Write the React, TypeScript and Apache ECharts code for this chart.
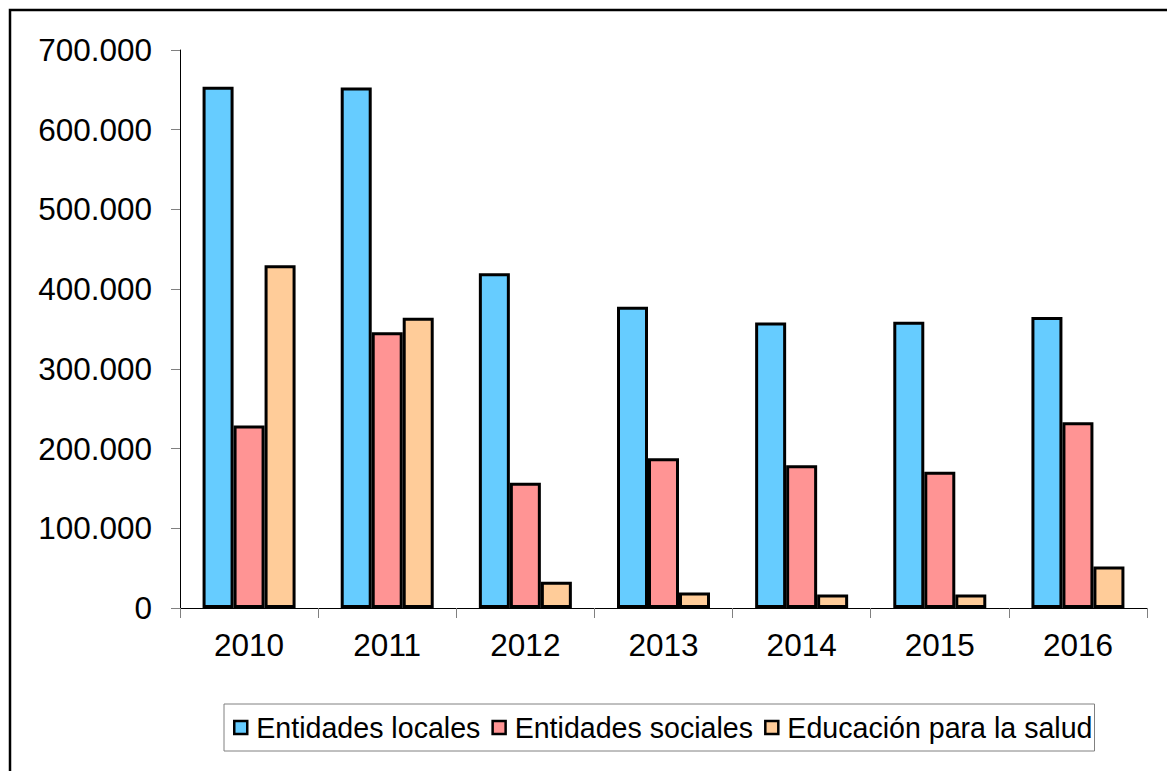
import React, { useEffect, useRef } from "react";
import * as echarts from "echarts";

const categories = ["2010", "2011", "2012", "2013", "2014", "2015", "2016"];
const seriesNames = ["Entidades locales", "Entidades sociales", "Educación para la salud"];
const entidadesLocales = [654000, 653000, 420000, 378000, 358000, 359000, 365000];
const entidadesSociales = [229000, 346000, 157000, 188000, 179000, 171000, 233000];
const educacionSalud = [430000, 364000, 33000, 19500, 17000, 17000, 52000];
const seriesColors = ["#66CCFF", "#FF9494", "#FFCC99"];
const yTicks = [0, 100000, 200000, 300000, 400000, 500000, 600000, 700000];

const FONT = "'Liberation Sans', Arial, sans-serif";

function fmt(v: number): string {
  return String(Math.round(v)).replace(/\B(?=(\d{3})+(?!\d))/g, ".");
}

export default function App() {
  const ref = useRef<HTMLDivElement>(null);
  useEffect(() => {
    if (!ref.current) return;
    const chart = echarts.init(ref.current, null, { renderer: "svg" });
    const data = [entidadesLocales, entidadesSociales, educacionSalud];
    chart.setOption({
      animation: false,
      backgroundColor: "#ffffff",
      textStyle: { fontFamily: FONT, color: "#000" },
      graphic: [
        {
          type: "rect",
          shape: { x: 10, y: 10, width: 1200, height: 800 },
          style: { fill: "none", stroke: "#000", lineWidth: 2.5 },
          silent: true,
          z: 100,
        },
      ],
      grid: { left: 180, top: 50, right: 20, bottom: 163, containLabel: false },
      legend: {
        left: 224,
        top: 704,
        orient: "horizontal",
        padding: [9, 2, 9, 9],
        itemGap: 11,
        itemWidth: 13,
        itemHeight: 13,
        borderColor: "#808080",
        borderWidth: 1,
        icon: "rect",
        itemStyle: { borderColor: "#000", borderWidth: 2.5 },
        formatter: (name: string) => "{a|" + name + "}",
        textStyle: {
          fontFamily: FONT,
          fontSize: 28.6,
          color: "#000",
          rich: { a: { fontFamily: FONT, fontSize: 28.6, color: "#000", padding: [0, 0, 0, 4] } },
        },
        data: seriesNames,
      },
      xAxis: {
        type: "category",
        data: categories,
        axisLine: { lineStyle: { color: "#000", width: 1 } },
        axisTick: { show: true, length: 10, lineStyle: { color: "#808080" }, alignWithLabel: false },
        axisLabel: { fontFamily: FONT, fontSize: 31.5, color: "#000", margin: 21 },
        splitLine: { show: false },
      },
      yAxis: {
        type: "value",
        min: yTicks[0],
        max: yTicks[yTicks.length - 1],
        interval: yTicks[1] - yTicks[0],
        axisLine: { show: true, lineStyle: { color: "#000", width: 1 } },
        axisTick: { show: true, length: 9, lineStyle: { color: "#808080" } },
        axisLabel: { fontFamily: FONT, fontSize: 31.5, color: "#000", margin: 28, formatter: (v: number) => fmt(v) },
        splitLine: { show: false },
      },
      series: seriesNames.map((name, i) => ({
        name,
        type: "bar",
        data: data[i],
        barWidth: 31,
        barGap: "0%",
        itemStyle: { color: seriesColors[i], borderColor: "#000", borderWidth: 3 },
      })),
    });
    return () => chart.dispose();
  }, []);
  return (
    <div
      ref={ref}
      style={{ position: "fixed", left: 0, top: 0, width: 1167, height: 771, background: "#fff" }}
    />
  );
}
